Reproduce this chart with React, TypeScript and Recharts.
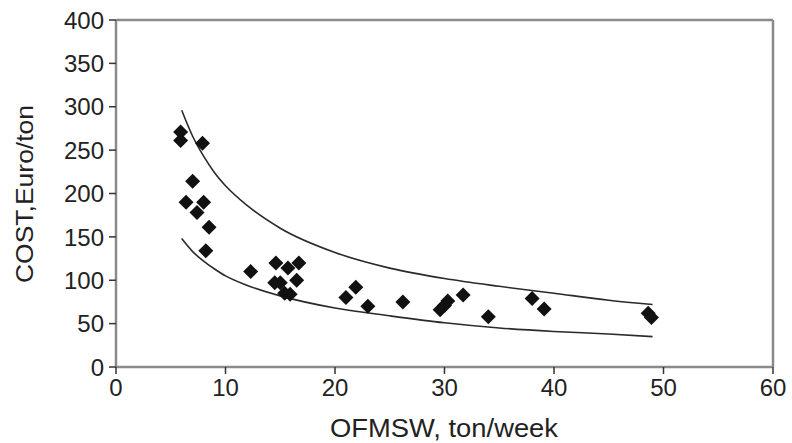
import {
  ComposedChart,
  Scatter,
  Line,
  XAxis,
  YAxis,
  ReferenceLine,
} from "recharts";

// measured cost points (ton/week, euro/ton)
const tonsPerWeek = [
  5.9, 5.9, 7.9, 7.0, 6.4, 8.0, 7.4, 8.5, 8.2, 12.3, 14.6, 15.7, 16.7, 14.5,
  15.0, 16.5, 15.4, 15.9, 21.9, 21.0, 23.0, 26.2, 29.6, 30.0, 30.3, 31.7, 34.0,
  38.0, 39.1, 48.6, 48.9,
];
const costPerTon = [
  271, 261, 258, 214, 190, 190, 178, 161, 134, 110, 120, 114, 120, 97, 97, 100,
  85, 84, 92, 80, 70, 75, 66, 71, 76, 83, 58, 79, 67, 62, 57,
];

// envelope curves
const curveX = [6, 7, 8, 9, 10, 12, 15, 20, 25, 30, 35, 40, 45, 49];
const upperY = [296, 266, 243, 224, 209, 186, 160, 132, 114, 102, 93, 85, 77, 72];
const lowerY = [148, 133, 122, 113, 105, 94, 82, 68, 59, 51, 45, 41, 38, 35];

const xTicks = [0, 10, 20, 30, 40, 50, 60];
const yTicks = [0, 50, 100, 150, 200, 250, 300, 350, 400];

const points = tonsPerWeek.map((x, i) => ({ x, y: costPerTon[i] }));
const upper = curveX.map((x, i) => ({ x, y: upperY[i] }));
const lower = curveX.map((x, i) => ({ x, y: lowerY[i] }));

const FONT = "'Liberation Sans', Arial, sans-serif";
const TEXT = "#222";
const AXIS = "#8a8a8a";

function Diamond(props: any) {
  const { cx, cy } = props;
  const r = 7.5;
  return (
    <polygon
      points={`${cx},${cy - r} ${cx + r},${cy} ${cx},${cy + r} ${cx - r},${cy}`}
      fill="#111"
    />
  );
}

function XTick({ x, y, payload }: any) {
  return (
    <text x={x} y={y} dy="0.71em" textAnchor="middle" fontSize={24} fontFamily={FONT} fill={TEXT}>
      {payload.value}
    </text>
  );
}

function YTick({ x, y, payload }: any) {
  return (
    <text x={x} y={y} dy="0.36em" textAnchor="end" fontSize={24} fontFamily={FONT} fill={TEXT}>
      {payload.value}
    </text>
  );
}

export default function App() {
  return (
    <div style={{ position: "absolute", left: 0, top: 0 }}>
      <ComposedChart
        width={792}
        height={443}
        margin={{ top: 20, right: 19, bottom: 0, left: 0 }}
      >
        <XAxis
          type="number"
          dataKey="x"
          domain={[0, 60]}
          ticks={xTicks}
          height={76}
          tick={<XTick />}
          tickSize={7}
          tickMargin={5}
          axisLine={{ stroke: AXIS, strokeWidth: 2.5 }}
          tickLine={{ stroke: "#333", strokeWidth: 1.5 }}
          label={{
            content: () => (
              <text
                x={444}
                y={437}
                textAnchor="middle"
                fontSize={25}
                fontFamily={FONT}
                fill={TEXT}
                textLength={228}
                lengthAdjust="spacingAndGlyphs"
              >
                OFMSW, ton/week
              </text>
            ),
          }}
        />
        <YAxis
          type="number"
          dataKey="y"
          domain={[0, 400]}
          ticks={yTicks}
          width={116}
          tick={<YTick />}
          tickSize={7}
          tickMargin={5}
          axisLine={{ stroke: AXIS, strokeWidth: 2.5 }}
          tickLine={{ stroke: "#333", strokeWidth: 1.5 }}
          label={{
            content: () => (
              <text
                x={33}
                y={194}
                transform="rotate(-90 33 194)"
                textAnchor="middle"
                fontSize={24}
                fontFamily={FONT}
                fill={TEXT}
                textLength={178}
                lengthAdjust="spacingAndGlyphs"
              >
                COST,Euro/ton
              </text>
            ),
          }}
        />
        <ReferenceLine y={400} stroke={AXIS} strokeWidth={2.5} />
        <ReferenceLine x={60} stroke={AXIS} strokeWidth={2.5} />
        <Line
          data={upper}
          dataKey="y"
          type="monotone"
          stroke="#2a2a2a"
          strokeWidth={1.6}
          dot={false}
          activeDot={false}
          isAnimationActive={false}
        />
        <Line
          data={lower}
          dataKey="y"
          type="monotone"
          stroke="#2a2a2a"
          strokeWidth={1.6}
          dot={false}
          activeDot={false}
          isAnimationActive={false}
        />
        <Scatter data={points} shape={<Diamond />} isAnimationActive={false} />
      </ComposedChart>
    </div>
  );
}
